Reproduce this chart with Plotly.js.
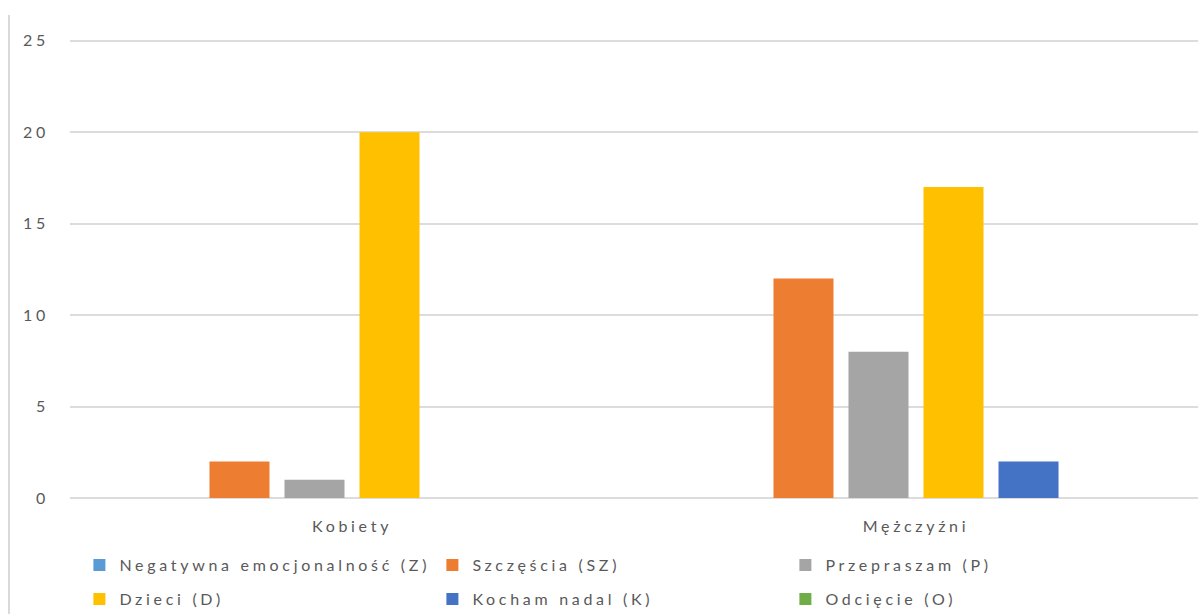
<!DOCTYPE html>
<html>
<head>
<meta charset="utf-8">
<script src="https://cdn.plot.ly/plotly-3.0.1.min.js"></script>
<style>
  html, body { margin: 0; padding: 0; background: #ffffff; }
  #wrap { position: relative; width: 1203px; height: 614px; }
  #chart { position: absolute; left: 0; top: 0; width: 1203px; height: 614px; }
  #frame { position: absolute; left: 8px; top: 15px; width: 0; height: 599px; border-left: 2px solid #dadada; z-index: 5; pointer-events: none; }
  #chart text { letter-spacing: 3.7px; }
</style>
</head>
<body>
<div id="wrap">
  <div id="chart"></div>
  <div id="frame"></div>
</div>
<script>
// Grupy na osi X
const categories = ['Kobiety', 'Mężczyźni'];

// Kategorie odpowiedzi (serie)
const seriesNames = [
  'Negatywna emocjonalność (Z)',
  'Szczęścia (SZ)',
  'Przepraszam (P)',
  'Dzieci (D)',
  'Kocham nadal (K)',
  'Odcięcie (O)'
];

// Liczebności w każdej grupie
const valuesZ  = [0, 0];
const valuesSZ = [2, 12];
const valuesP  = [1, 8];
const valuesD  = [20, 17];
const valuesK  = [0, 2];
const valuesO  = [0, 0];

const yTicks = [0, 5, 10, 15, 20, 25];

const seriesValues = [valuesZ, valuesSZ, valuesP, valuesD, valuesK, valuesO];
const seriesColors = ['#5B9BD5', '#ED7D31', '#A5A5A5', '#FFC000', '#4472C4', '#70AD47'];
// pierwszy wiersz legendy: trzy pierwsze serie, drugi wiersz: pozostałe
const seriesLegend = ['legend', 'legend', 'legend', 'legend2', 'legend2', 'legend2'];

const textColor = '#595959';
const fontFamily = 'Lato, "Open Sans", sans-serif';

const traces = seriesNames.map((name, i) => ({
  type: 'bar',
  name: name,
  x: categories,
  y: seriesValues[i],
  marker: { color: seriesColors[i], line: { width: 0 } },
  legend: seriesLegend[i],
  hoverinfo: 'x+y+name'
}));

const legendCommon = {
  orientation: 'h',
  xref: 'container',
  yref: 'container',
  xanchor: 'left',
  yanchor: 'middle',
  entrywidth: 308,
  entrywidthmode: 'pixels',
  font: { family: fontFamily, size: 16, color: textColor },
  bgcolor: 'rgba(0,0,0,0)',
  itemclick: false,
  itemdoubleclick: false
};

const layout = {
  width: 1203,
  height: 614,
  margin: { l: 70, r: 5, t: 37, b: 116 },
  paper_bgcolor: '#ffffff',
  plot_bgcolor: '#ffffff',
  barmode: 'group',
  bargap: 0.202,
  bargroupgap: 0.2,
  font: { family: fontFamily, size: 16, color: textColor },
  xaxis: {
    type: 'category',
    showgrid: false,
    showline: false,
    zeroline: false,
    ticks: '',
    ticklabelstandoff: 17,
    tickfont: { family: fontFamily, size: 16, color: textColor }
  },
  yaxis: {
    range: [0, 25.2],
    tickvals: yTicks,
    ticktext: yTicks.map(String),
    showgrid: true,
    gridcolor: '#dcdcdc',
    gridwidth: 2,
    zeroline: true,
    zerolinecolor: '#dcdcdc',
    zerolinewidth: 2,
    showline: false,
    ticks: '',
    ticklabelstandoff: 20,
    tickfont: { family: fontFamily, size: 16, color: textColor }
  },
  legend: Object.assign({}, legendCommon, { x: 0.066, y: 1 - 565 / 614 }),
  legend2: Object.assign({}, legendCommon, { x: 0.066, y: 1 - 599 / 614 }),
  showlegend: true
};

Plotly.newPlot('chart', traces, layout, { displayModeBar: false });
</script>
</body>
</html>
